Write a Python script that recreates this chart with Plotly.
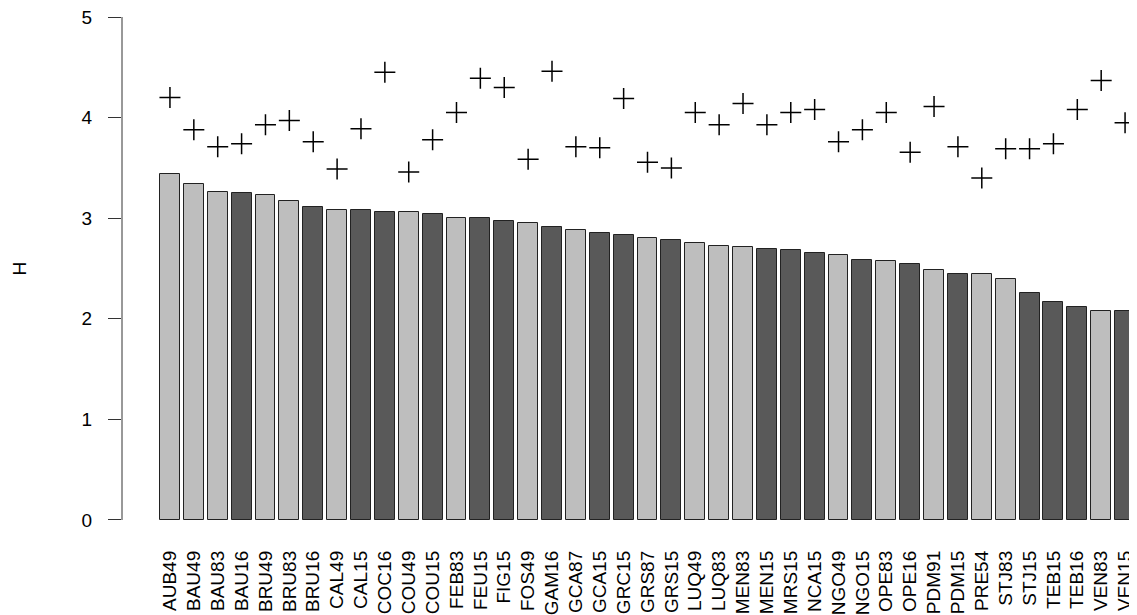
import plotly.graph_objects as go

labels = ["AUB49", "BAU49", "BAU83", "BAU16", "BRU49", "BRU83", "BRU16", "CAL49", "CAL15", "COC16",
          "COU49", "COU15", "FEB83", "FEU15", "FIG15", "FOS49", "GAM16", "GCA87", "GCA15", "GRC15",
          "GRS87", "GRS15", "LUQ49", "LUQ83", "MEN83", "MEN15", "MRS15", "NCA15", "NGO49", "NGO15",
          "OPE83", "OPE16", "PDM91", "PDM15", "PRE54", "STJ83", "STJ15", "TEB15", "TEB16", "VEN83", "VEN15"]

h_values = [3.44, 3.34, 3.26, 3.25, 3.23, 3.17, 3.11, 3.08, 3.08, 3.06,
            3.06, 3.045, 3.00, 3.00, 2.97, 2.95, 2.91, 2.88, 2.85, 2.83,
            2.80, 2.78, 2.75, 2.72, 2.71, 2.69, 2.68, 2.65, 2.63, 2.58,
            2.57, 2.54, 2.49, 2.445, 2.445, 2.40, 2.26, 2.17, 2.12, 2.075, 2.075]

plus_values = [4.20, 3.88, 3.71, 3.74, 3.93, 3.97, 3.76, 3.49, 3.89, 4.45,
               3.46, 3.78, 4.05, 4.39, 4.30, 3.585, 4.46, 3.71, 3.70, 4.19,
               3.555, 3.50, 4.05, 3.93, 4.14, 3.93, 4.05, 4.08, 3.76, 3.88,
               4.05, 3.655, 4.11, 3.71, 3.40, 3.69, 3.69, 3.74, 4.08, 4.37, 3.95]

groups = ["L", "L", "L", "D", "L", "L", "D", "L", "D", "D",
          "L", "D", "L", "D", "D", "L", "D", "L", "D", "D",
          "L", "D", "L", "L", "L", "D", "D", "D", "L", "D",
          "L", "D", "L", "D", "L", "L", "D", "D", "D", "L", "D"]

y_ticks = [0, 1, 2, 3, 4, 5]

group_colors = {"L": "#bebebe", "D": "#595959"}

# R barplot positions: width 1, space 0.2
positions = [0.7 + 1.2 * i for i in range(len(labels))]
colors = [group_colors[g] for g in groups]

font_family = "Liberation Sans, Arial, sans-serif"

fig = go.Figure()
fig.add_trace(go.Bar(
    x=positions, y=h_values, width=1.0,
    marker=dict(color=colors, line=dict(color="#222222", width=1)),
    showlegend=False, hoverinfo="skip",
))
fig.add_trace(go.Scatter(
    x=positions, y=plus_values, mode="markers",
    marker=dict(symbol="cross-thin", size=15, line=dict(color="#000000", width=1.5)),
    showlegend=False, hoverinfo="skip",
))

fig.add_shape(type="line", xref="paper", yref="y", x0=0, x1=0, y0=0, y1=5,
              line=dict(color="#333333", width=1))

fig.add_annotation(text="H", xref="paper", yref="y", x=(19 - 122) / 1015, y=2.5,
                   showarrow=False, textangle=-90, xanchor="center", yanchor="middle",
                   font=dict(family=font_family, size=19, color="#000000"))

# page body has an 8px margin, so the figure is sized/offset accordingly
fig.update_layout(
    width=1129, height=607,
    margin=dict(l=114, r=0, t=0, b=75, autoexpand=False),
    paper_bgcolor="white", plot_bgcolor="white",
    font=dict(family=font_family, size=19, color="#000000"),
    bargap=0,
)
fig.update_xaxes(
    range=[-1.71, 49.3], showgrid=False, zeroline=False, showline=False,
    tickmode="array", tickvals=positions, ticktext=labels, tickangle=-90,
    ticks="", ticklabelstandoff=6, automargin=False, ticklabeloverflow="allow",
    tickfont=dict(family=font_family, size=19, color="#000000"),
)
fig.update_yaxes(
    range=[-0.199, 5.0895], showgrid=False, zeroline=False, showline=False,
    tickmode="array", tickvals=y_ticks, ticktext=[str(v) for v in y_ticks],
    ticks="outside", ticklen=13, tickwidth=1, tickcolor="#333333",
    ticklabelstandoff=12, automargin=False, ticklabeloverflow="allow",
    tickfont=dict(family=font_family, size=19, color="#000000"),
)

fig.write_html("out.html")
